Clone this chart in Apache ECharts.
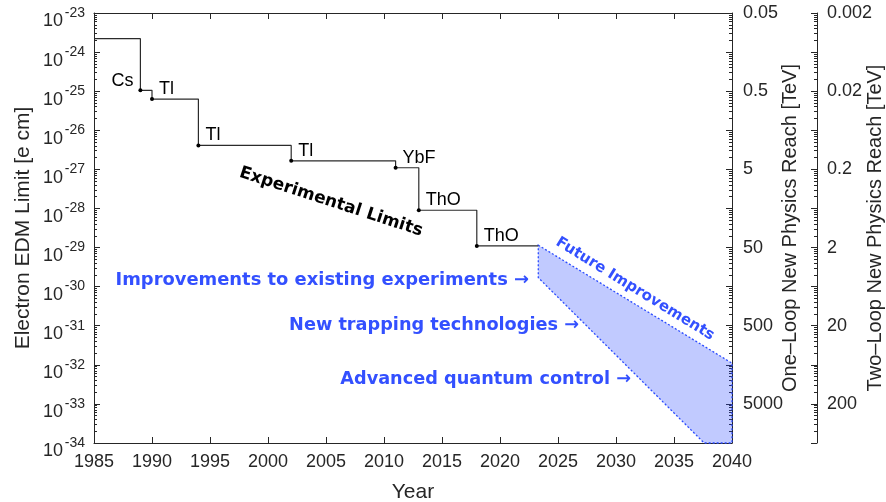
<!DOCTYPE html>
<html>
<head>
<meta charset="utf-8">
<script src="https://cdn.jsdelivr.net/npm/echarts@6/dist/echarts.min.js"></script>
<style>html,body{margin:0;padding:0;background:#fff;}#c{width:886px;height:502px;}</style>
</head>
<body>
<div id="c"></div>
<script>
// ---- data (electron EDM limits, e cm) ----
const limitYears   = [1985, 1989, 1990, 1994, 2002, 2011, 2013, 2018, 2023.3];
const limitValues  = [2.2e-24, 1.05e-25, 6.3e-26, 4.1e-27, 1.65e-27, 1.1e-27, 9.0e-29, 1.1e-29, 1.1e-29];
const limitSpecies = ['', 'Cs', 'Tl', 'Tl', 'Tl', 'YbF', 'ThO', 'ThO', ''];

// future-improvement band (outline vertices)
const futureYears  = [2023.3, 2040, 2040, 2037.6, 2023.3];
const futureValues = [1.15e-29, 1.1e-32, 1e-34, 1e-34, 1.7e-30];

// tick labels
const yExponents    = [-23, -24, -25, -26, -27, -28, -29, -30, -31, -32, -33, -34];
const oneLoopLabels = ['0.05', '0.5', '5', '50', '500', '5000'];
const twoLoopLabels = ['0.002', '0.02', '0.2', '2', '20', '200'];

// ECharts log scale rounds below 1e-20, so values are plotted in units of 1e-34 e cm
const SCALE = 1e34;
const EXP0 = -34;

const dec = e => Math.pow(10, e - EXP0);
const decadeVals = yExponents.map(dec);
const minorVals = [];
for (let e = -34; e < -23; e++) for (let k = 2; k <= 9; k++) minorVals.push(k * dec(e));
const evenVals = oneLoopLabels.map((_, i) => dec(-23 - 2 * i));
const expOf = v => Math.round(Math.log10(v)) + EXP0;

const AX = '#262626';
const FONT = '"Liberation Sans", Arial, sans-serif';
const BOLD = '"DejaVu Sans", Verdana, sans-serif';
const BLUE = '#3350ff';

const gridTop = 13, gridBottom = 59, gridLeft = 94, gridRight = 154;

function yBase(extra) {
  return Object.assign({
    type: 'log', logBase: 10, min: dec(-34), max: dec(-23), gridIndex: 0,
    splitLine: { show: false },
    axisLine: { show: false, lineStyle: { color: AX, width: 1 } },
    axisTick: { show: true, inside: true, length: 6, lineStyle: { color: AX, width: 1 } },
    axisLabel: { show: false }
  }, extra);
}

const chart = echarts.init(document.getElementById('c'), null, { renderer: 'canvas' });
chart.setOption({
  animation: false,
  backgroundColor: '#fff',
  grid: { left: gridLeft, right: gridRight, top: gridTop, bottom: gridBottom, containLabel: false, outerBoundsMode: 'none' },
  xAxis: [
    {
      type: 'value', min: 1985, max: 2040, interval: 5, position: 'bottom',
      splitLine: { show: false },
      axisLine: { show: true, lineStyle: { color: AX, width: 1 } },
      axisTick: { show: true, inside: true, length: 6, lineStyle: { color: AX } },
      axisLabel: { show: true, margin: 10, fontSize: 18, color: AX, fontFamily: FONT, formatter: v => String(v) },
      name: 'Year', nameLocation: 'middle', nameGap: 39, nameMoveOverlap: false,
      nameTextStyle: { fontSize: 21, color: AX, fontFamily: FONT }
    },
    {
      type: 'value', min: 1985, max: 2040, interval: 5, position: 'top',
      splitLine: { show: false },
      axisLine: { show: true, onZero: false, lineStyle: { color: AX, width: 1 } },
      axisTick: { show: true, inside: true, length: 6, lineStyle: { color: AX } },
      axisLabel: { show: false }
    }
  ],
  yAxis: [
    // 0: left, major ticks + superscript exponents
    yBase({
      position: 'left',
      axisLine: { show: true, onZero: false, lineStyle: { color: AX, width: 1 } },
      axisTick: { show: true, inside: true, length: 6, customValues: decadeVals, lineStyle: { color: AX } },
      axisLabel: { show: true, customValues: decadeVals, margin: 9, fontSize: 14, color: AX, fontFamily: FONT,
        formatter: v => String(expOf(v)) },
      name: 'Electron EDM Limit [e cm]', nameLocation: 'middle', nameGap: 60,
      nameTextStyle: { fontSize: 21, color: AX, fontFamily: FONT }
    }),
    // 1: left, minor ticks + base "10"
    yBase({
      position: 'left',
      axisTick: { show: true, inside: true, length: 3, customValues: minorVals, lineStyle: { color: AX } },
      axisLabel: { show: true, customValues: decadeVals, margin: 31, fontSize: 18, color: AX, fontFamily: FONT,
        verticalAlign: 'top', lineHeight: 17, formatter: () => '10' }
    }),
    // 2: one-loop reach axis, major
    yBase({
      position: 'right', offset: 0,
      axisLine: { show: true, onZero: false, lineStyle: { color: AX, width: 1 } },
      axisTick: { show: true, inside: true, length: 6, customValues: decadeVals, lineStyle: { color: AX } },
      axisLabel: { show: true, customValues: evenVals, margin: 11, fontSize: 18, color: AX, fontFamily: FONT,
        formatter: v => oneLoopLabels[(-23 - expOf(v)) / 2] },
      name: 'One\u2013Loop New Physics Reach [TeV]', nameLocation: 'middle', nameGap: 48, nameRotate: 90,
      nameMoveOverlap: false,
      nameTextStyle: { fontSize: 20, color: AX, fontFamily: FONT }
    }),
    // 3: one-loop minor ticks
    yBase({
      position: 'right', offset: 0,
      axisTick: { show: true, inside: true, length: 3, customValues: minorVals, lineStyle: { color: AX } }
    }),
    // 4: two-loop reach axis, major
    yBase({
      position: 'right', offset: 85,
      axisLine: { show: true, onZero: false, lineStyle: { color: AX, width: 1 } },
      axisTick: { show: true, inside: true, length: 6, customValues: decadeVals, lineStyle: { color: AX } },
      axisLabel: { show: true, customValues: evenVals, margin: 10, fontSize: 18, color: AX, fontFamily: FONT,
        formatter: v => twoLoopLabels[(-23 - expOf(v)) / 2] },
      name: 'Two\u2013Loop New Physics Reach [TeV]', nameLocation: 'middle', nameGap: 48, nameRotate: 90,
      nameMoveOverlap: false,
      nameTextStyle: { fontSize: 20, color: AX, fontFamily: FONT }
    }),
    // 5: two-loop minor ticks
    yBase({
      position: 'right', offset: 85,
      axisTick: { show: true, inside: true, length: 3, customValues: minorVals, lineStyle: { color: AX } }
    })
  ],
  series: [
    {
      type: 'custom', xAxisIndex: 0, yAxisIndex: 0, z: 1,
      data: [[futureYears[0], futureValues[0] * SCALE]],
      renderItem: (params, api) => {
        const pts = futureYears.map((x, i) => api.coord([x, futureValues[i] * SCALE]));
        return {
          type: 'polygon', shape: { points: pts },
          style: { fill: 'rgba(51,80,255,0.30)', stroke: '#2a4bff', lineWidth: 1.3, lineDash: [2, 2] }
        };
      }
    },
    {
      type: 'line', xAxisIndex: 0, yAxisIndex: 0, z: 3, step: 'end',
      symbol: 'circle', symbolSize: 4,
      lineStyle: { color: '#2b2b2b', width: 1.2 },
      itemStyle: { color: '#000' },
      data: limitYears.map((yr, i) => ({
        value: [yr, limitValues[i] * SCALE],
        symbol: limitSpecies[i] ? 'circle' : 'none',
        label: {
          show: !!limitSpecies[i],
          formatter: limitSpecies[i],
          position: i === 1 ? 'left' : 'right',
          distance: 5,
          offset: [0, i === 1 ? -9 : -10],
          fontSize: 18, color: '#000', fontFamily: FONT
        }
      }))
    }
  ],
  graphic: [
    { type: 'text', x: 331, y: 202, rotation: -18 * Math.PI / 180, z: 10,
      style: { text: 'Experimental Limits', font: 'bold 17px ' + BOLD, fill: '#000', align: 'center', verticalAlign: 'middle' } },
    { type: 'text', x: 635, y: 289, rotation: -31.6 * Math.PI / 180, z: 10,
      style: { text: 'Future Improvements', font: 'bold 15px ' + BOLD, fill: BLUE, align: 'center', verticalAlign: 'middle' } },
    { type: 'text', x: 529, y: 280, z: 10,
      style: { text: 'Improvements to existing experiments \u2192', font: 'bold 17.9px ' + BOLD, fill: BLUE, align: 'right', verticalAlign: 'middle' } },
    { type: 'text', x: 579, y: 325, z: 10,
      style: { text: 'New trapping technologies \u2192', font: 'bold 17.7px ' + BOLD, fill: BLUE, align: 'right', verticalAlign: 'middle' } },
    { type: 'text', x: 631, y: 379, z: 10,
      style: { text: 'Advanced quantum control \u2192', font: 'bold 17.7px ' + BOLD, fill: BLUE, align: 'right', verticalAlign: 'middle' } }
  ]
});
</script>
</body>
</html>
